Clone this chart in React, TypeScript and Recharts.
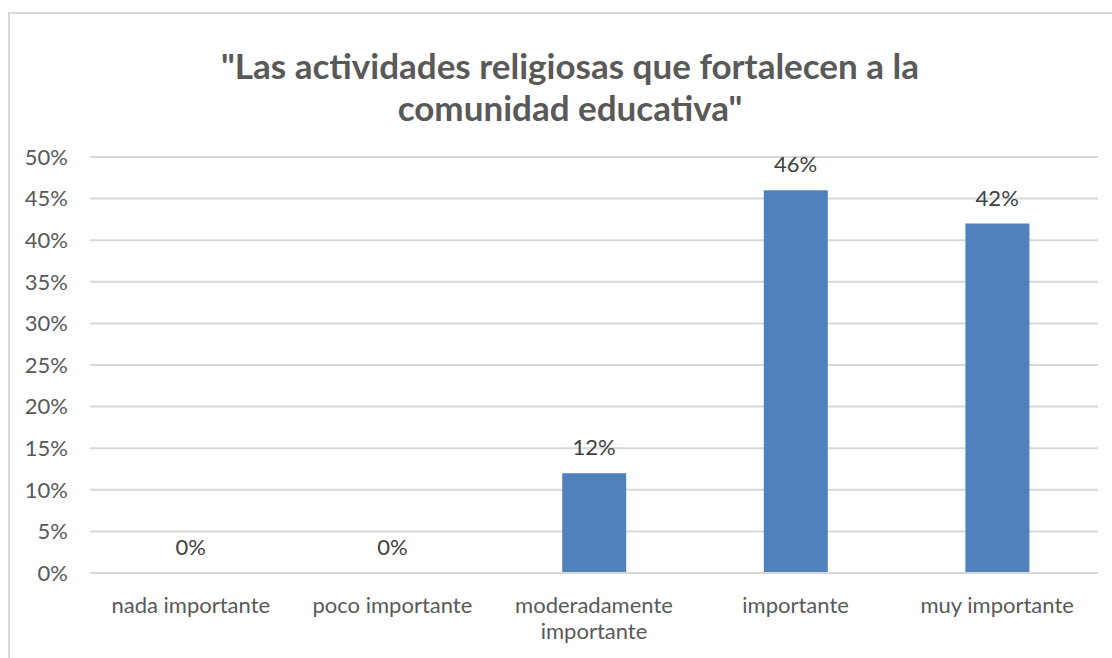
import React from 'react';
import { ComposedChart, Bar, Line, XAxis, YAxis, CartesianGrid, LabelList } from 'recharts';

const categories = ['nada importante', 'poco importante', 'moderadamente importante', 'importante', 'muy importante'];
const values = [0, 0, 12, 46, 42];
const yTicks = [0, 5, 10, 15, 20, 25, 30, 35, 40, 45, 50];
const titleLines = ['"Las actividades religiosas que fortalecen a la', 'comunidad educativa"'];

const data = categories.map((name, i) => ({ name, value: values[i] }));

const FONT = 'Lato, "Open Sans", sans-serif';
const FS = 22;

// split long labels on the last space, like Excel wraps them
const CategoryTick = (props: any) => {
  const { x, y, payload } = props;
  const text: string = payload.value;
  let lines = [text];
  if (text.length > 16) {
    const k = text.lastIndexOf(' ');
    lines = [text.slice(0, k), text.slice(k + 1)];
  }
  return (
    <text x={x} y={y} textAnchor="middle" fill="#595959" fontSize={FS} fontFamily={FONT}>
      {lines.map((l, i) => (
        <tspan key={i} x={x} dy={i === 0 ? 30 : 26}>{l}</tspan>
      ))}
    </text>
  );
};

// labels hang off an invisible line so the 0% bars get one too
const ValueLabel = (props: any) => {
  const { x, y, value } = props;
  return (
    <text x={x} y={Number(y) - 18} textAnchor="middle" fill="#404040" fontSize={FS} fontFamily={FONT}>
      {`${value}%`}
    </text>
  );
};

export default function App() {
  return (
    <div style={{ position: 'absolute', left: 0, top: 0, width: 1112, height: 658, overflow: 'hidden', background: '#fff' }}>
      <div style={{ position: 'absolute', left: 8, top: 12, width: 1130, height: 700, border: '2px solid #d9d9d9' }} />
      <div
        style={{
          position: 'absolute',
          left: 70,
          top: 44,
          width: 1000,
          textAlign: 'center',
          fontFamily: FONT,
          fontWeight: 700,
          fontSize: 35,
          lineHeight: '42px',
          color: '#595959',
        }}
      >
        {titleLines.map((t, i) => (
          <div key={i}>{t}</div>
        ))}
      </div>
      <div style={{ position: 'absolute', left: 0, top: 0 }}>
        <ComposedChart width={1112} height={658} data={data} margin={{ top: 157, right: 14, left: 20, bottom: 25 }}>
          <CartesianGrid vertical={false} stroke="#d9d9d9" strokeWidth={2} />
          <XAxis
            dataKey="name"
            axisLine={{ stroke: '#d9d9d9', strokeWidth: 2 }}
            tickLine={false}
            tickSize={0}
            tickMargin={10}
            interval={0}
            height={60}
            tick={<CategoryTick />}
          />
          <YAxis
            domain={[0, 50]}
            ticks={yTicks}
            tickFormatter={(v) => `${v}%`}
            axisLine={false}
            tickLine={false}
            tickSize={0}
            tickMargin={22}
            width={70}
            tick={{ fill: '#595959', fontSize: FS, fontFamily: FONT }}
          />
          <Bar dataKey="value" fill="#4f81bd" barSize={64} isAnimationActive={false} />
          <Line dataKey="value" stroke="none" dot={false} activeDot={false} isAnimationActive={false}>
            <LabelList dataKey="value" content={<ValueLabel />} />
          </Line>
        </ComposedChart>
      </div>
    </div>
  );
}
